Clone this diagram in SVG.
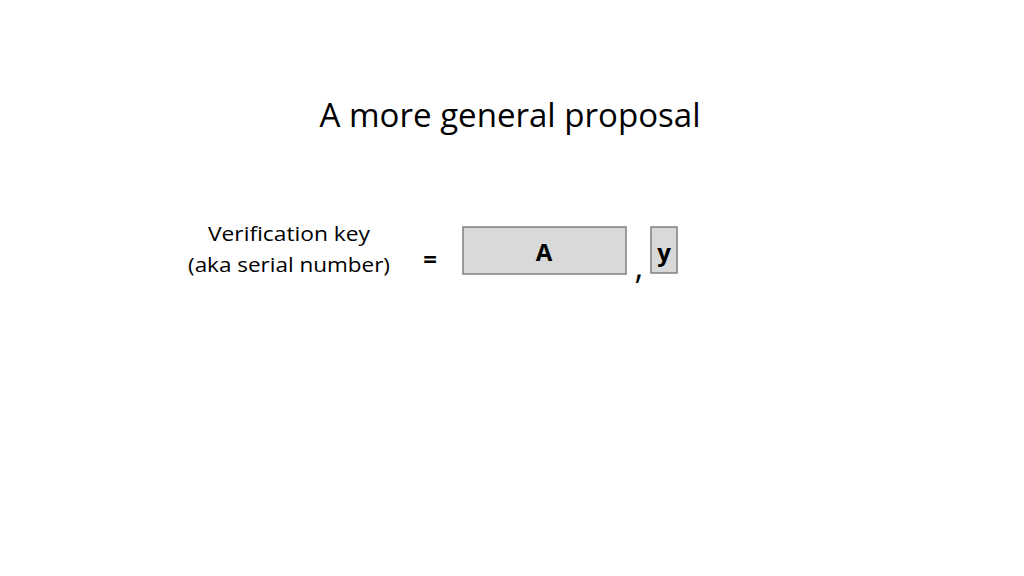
<svg xmlns="http://www.w3.org/2000/svg" width="1024" height="576" viewBox="0 0 1024 576">
<style>
text{font-family:"Open Sans","Noto Sans","Liberation Sans",sans-serif;fill:#000}
.box{fill:#d9d9d9;stroke:#7f7f7f;stroke-width:1.5}
.b{font-weight:bold;font-size:24px;text-anchor:middle}
.lbl{font-size:20px;text-anchor:middle}
</style>
<rect width="1024" height="576" fill="#fff"/>
<text x="510" y="127" font-size="33" text-anchor="middle" textLength="381" lengthAdjust="spacingAndGlyphs">A more general proposal</text>
<g id="label">
<text class="lbl" x="289" y="241" textLength="162" lengthAdjust="spacingAndGlyphs">Verification key</text>
<text class="lbl" x="289" y="272" textLength="202" lengthAdjust="spacingAndGlyphs">(aka serial number)</text>
</g>
<g id="equals"><text class="b" x="430" y="268" font-size="36" font-weight="900">=</text></g>
<g id="nodeA">
<rect class="box" x="463" y="227" width="163" height="47"/>
<text class="b" x="544" y="261">A</text>
</g>
<g id="comma"><text x="639" y="279" font-size="34" text-anchor="middle">,</text></g>
<g id="nodeY">
<rect class="box" x="651" y="227" width="26" height="46"/>
<text class="b" x="664" y="261">y</text>
</g>
<g id="connectors"/>
</svg>
